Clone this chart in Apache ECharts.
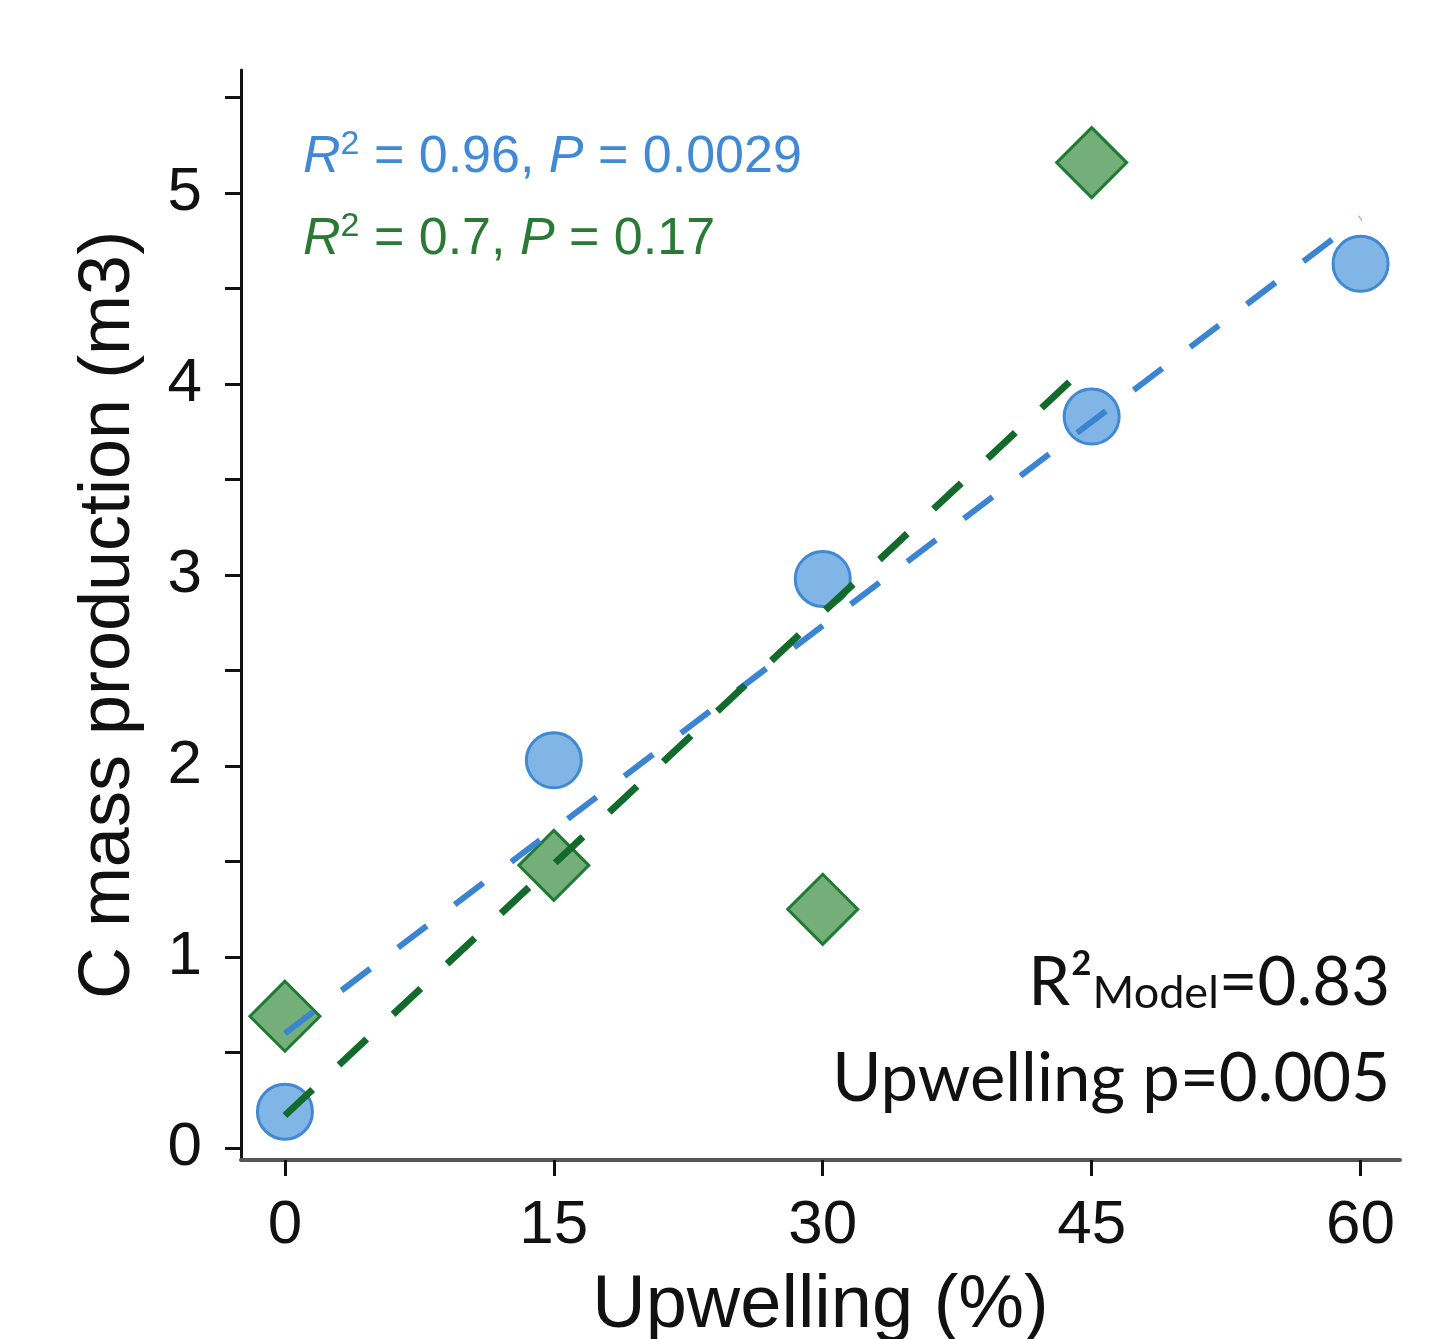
<!DOCTYPE html>
<html>
<head>
<meta charset="utf-8">
<script src="https://cdn.jsdelivr.net/npm/echarts@6/dist/echarts.min.js"></script>
<style>
  html, body { margin: 0; padding: 0; background: #fff; }
  #chart { width: 1451px; height: 1339px; }
</style>
</head>
<body>
<div id="chart"></div>
<script>
// upwelling levels and C mass production
const blueX = [0, 15, 30, 45, 60];
const blueY = [0.19, 2.03, 2.98, 3.83, 4.63];
const greenX = [0, 15, 30, 45];
const greenY = [0.69, 1.48, 1.25, 5.16];

// fitted lines (end points)
const blueFit = [[0, 0.6], [60, 4.87]];
const greenFit = [[0, 0.17], [45, 4.12]];

const xTicks = [0, 15, 30, 45, 60];
const yTicks = [0, 0.5, 1, 1.5, 2, 2.5, 3, 3.5, 4, 4.5, 5, 5.5];
const yLabels = [0, 1, 2, 3, 4, 5];

const chart = echarts.init(document.getElementById('chart'));

const sans = 'Liberation Sans, Arial, sans-serif';
const blueText = '#4089d5';
const greenText = '#2a7a35';

function statRich(color) {
  return {
    i: { fontSize: 52, fontStyle: 'italic', fill: color, fontFamily: sans, lineHeight: 60 },
    s: { fontSize: 34, fill: color, fontFamily: sans, verticalAlign: 'top', lineHeight: 30 },
    n: { fontSize: 52, fill: color, fontFamily: sans, lineHeight: 60 },
  };
}

chart.setOption({
  animation: false,
  grid: { left: 241, right: 51, top: 70, bottom: 179, outerBoundsMode: 'none' },
  xAxis: {
    type: 'value',
    min: -2.45,
    max: 62.2,
    name: 'Upwelling (%)',
    nameLocation: 'middle',
    nameGap: 110,
    nameTextStyle: { fontSize: 74, color: '#111', fontFamily: sans },
    axisLine: { onZero: false, lineStyle: { color: '#555', width: 4 } },
    axisTick: { customValues: xTicks, length: 16, lineStyle: { color: '#111', width: 3 } },
    axisLabel: { customValues: xTicks, fontSize: 62, color: '#111', fontFamily: sans, margin: 35 },
    splitLine: { show: false },
  },
  yAxis: {
    type: 'value',
    min: -0.063,
    max: 5.645,
    name: 'C mass production (m3)',
    nameLocation: 'middle',
    nameRotate: 90,
    nameGap: 96,
    nameTextStyle: { fontSize: 72, color: '#111', fontFamily: sans },
    axisLine: { show: true, onZero: false, lineStyle: { color: '#111', width: 3 } },
    axisTick: { customValues: yTicks, length: 16, lineStyle: { color: '#111', width: 3 } },
    axisLabel: { customValues: yLabels, fontSize: 62, color: '#111', fontFamily: sans, margin: 39 },
    splitLine: { show: false },
  },
  series: [
    {
      type: 'scatter',
      data: blueX.map((x, i) => [x, blueY[i]]),
      symbol: 'circle',
      symbolSize: 55,
      itemStyle: { color: '#80b5e6', borderColor: '#4189d4', borderWidth: 3, opacity: 1 },
      z: 2,
    },
    {
      type: 'scatter',
      data: greenX.map((x, i) => [x, greenY[i]]),
      symbol: 'diamond',
      symbolSize: 70,
      itemStyle: { color: '#74ae78', borderColor: '#1f7a33', borderWidth: 3, opacity: 1 },
      z: 2,
    },
    {
      type: 'line',
      data: blueFit,
      symbol: 'none',
      lineStyle: { color: '#3a84d1', width: 6, type: [36, 35] },
      z: 3,
    },
    {
      type: 'line',
      data: greenFit,
      symbol: 'none',
      lineStyle: { color: '#136b2b', width: 7, type: [38, 36] },
      z: 4,
    },
  ],
  graphic: [
    {
      type: 'text',
      left: 303,
      top: 128,
      style: {
        text: '{i|R}{s|2}{n| = 0.96, }{i|P}{n| = 0.0029}',
        rich: statRich(blueText),
      },
    },
    {
      type: 'text',
      left: 303,
      top: 210,
      style: {
        text: '{i|R}{s|2}{n| = 0.7, }{i|P}{n| = 0.17}',
        rich: statRich(greenText),
      },
    },
    {
      type: 'text',
      right: 61,
      top: 950,
      style: {
        text: '{n|R²}{m|Model}{n|=0.83}',
        rich: {
          n: { fontSize: 67, fill: '#111', fontFamily: 'Lato, sans-serif', lineHeight: 76 },
          m: { fontSize: 45, fill: '#111', fontFamily: 'Lato, sans-serif', verticalAlign: 'bottom', lineHeight: 45, padding: [0, 0, 6, 0] },
        },
      },
    },
    {
      type: 'text',
      right: 61,
      top: 1046,
      style: {
        text: 'Upwelling p=0.005',
        fontSize: 67,
        fill: '#111',
        fontFamily: 'Lato, sans-serif',
      },
    },
  ],
});
</script>
</body>
</html>
